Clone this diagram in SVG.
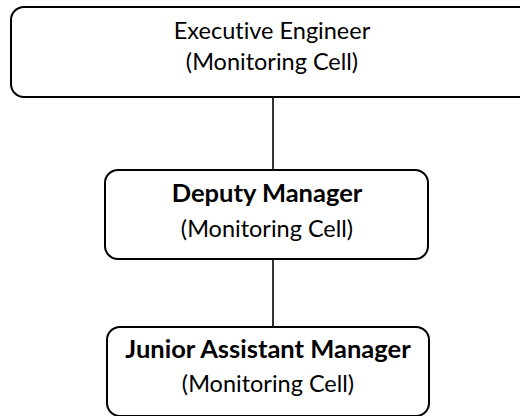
<svg xmlns="http://www.w3.org/2000/svg" width="520" height="416" viewBox="0 0 520 416">
<style>
.box{fill:#fff;stroke:#000;stroke-width:2}
.conn{stroke:#000;stroke-width:1.6;fill:none}
text{font-family:Lato,"Liberation Sans",sans-serif;font-size:23.5px;fill:#000;text-anchor:middle;font-variant-ligatures:none;font-feature-settings:"liga" 0,"dlig" 0}
.b{font-weight:bold;font-size:25.5px}
</style>
<rect width="520" height="416" fill="#fff"/>
<g id="connectors">
<line class="conn" x1="273" y1="97" x2="273" y2="170"/>
<line class="conn" x1="273" y1="259" x2="273" y2="327"/>
</g>
<g id="executive-engineer">
<rect class="box" x="11" y="7" width="526" height="90" rx="13"/>
<text x="272" y="39">Executive Engineer</text>
<text x="272" y="70">(Monitoring Cell)</text>
</g>
<g id="deputy-manager">
<rect class="box" x="105" y="170" width="323" height="89" rx="13"/>
<text class="b" x="267" y="202">Deputy Manager</text>
<text x="267" y="237">(Monitoring Cell)</text>
</g>
<g id="junior-assistant-manager">
<rect class="box" x="107" y="327" width="322" height="89" rx="13"/>
<text class="b" x="268" y="358">Junior Assistant Manager</text>
<text x="268" y="392">(Monitoring Cell)</text>
</g>
</svg>
